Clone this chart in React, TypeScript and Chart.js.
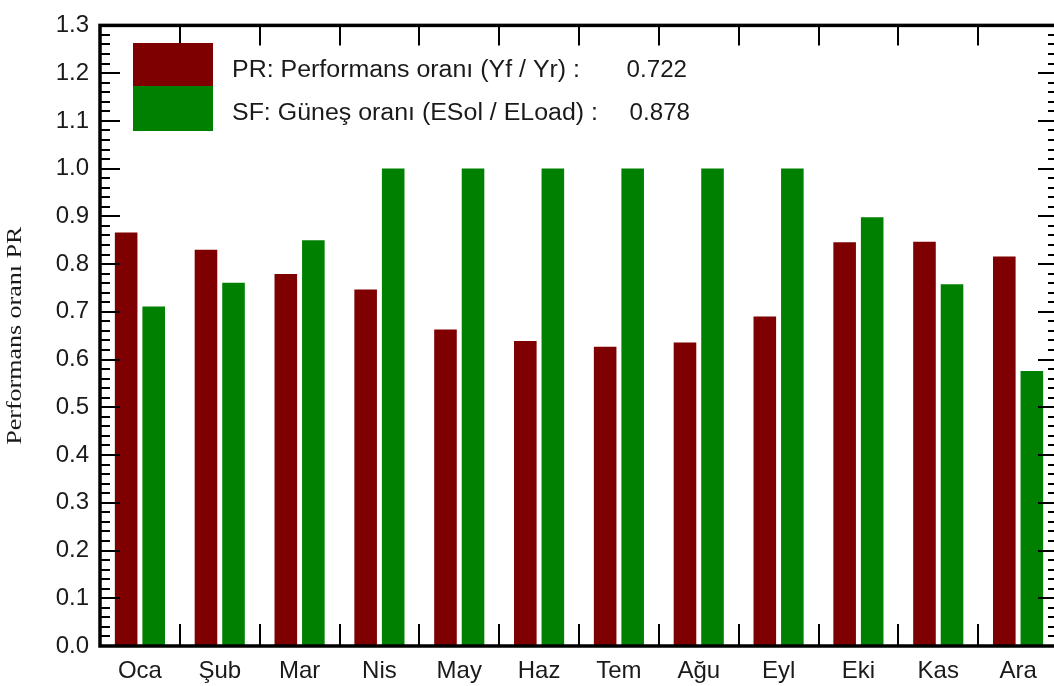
import React, { useEffect, useRef } from 'react';
import { Chart, registerables } from 'chart.js';

Chart.register(...registerables);

const months = ['Oca', 'Şub', 'Mar', 'Nis', 'May', 'Haz', 'Tem', 'Ağu', 'Eyl', 'Eki', 'Kas', 'Ara'];
const prValues = [0.866, 0.83, 0.779, 0.747, 0.663, 0.639, 0.627, 0.636, 0.69, 0.846, 0.847, 0.816];
const sfValues = [0.711, 0.761, 0.85, 1.0, 1.0, 1.0, 1.0, 1.0, 1.0, 0.898, 0.758, 0.576];
const seriesNames = ['PR: Performans oranı (Yf / Yr) :', 'SF: Güneş oranı (ESol / ELoad) :'];
const seriesTotals = ['0.722', '0.878'];
const seriesColors = ['#7f0000', '#008000'];
const yTitle = 'Performans oranı PR';
const yMin = 0;
const yMax = 1.3;
const yStep = 0.1;
const yMinorStep = 0.02;

// legend layout (pixels)
const LEG_BOX_X = 133;
const LEG_BOX_W = 80;
const LEG_BOX_TOPS = [43, 86];
const LEG_BOX_H = [43, 45];
const LEG_TEXT_X = 232;
const LEG_BASELINES = [77, 120];
const LEG_TEXT_WIDTHS = [348, 366];
const LEG_VALUE_RIGHT = [687, 690];

const decorPlugin = {
  id: 'decor',
  afterDatasetsDraw(chart: any) {
    const { ctx, chartArea } = chart;
    const { left, right, top, bottom } = chartArea;
    const xs = chart.scales.x;
    const ys = chart.scales.y;
    ctx.save();
    ctx.strokeStyle = '#000';
    ctx.lineWidth = 2;
    const nMinor = Math.round((yMax - yMin) / yMinorStep);
    const perMajor = Math.round(yStep / yMinorStep);
    for (let k = 1; k < nMinor; k++) {
      const v = yMin + k * yMinorStep;
      const py = Math.round(ys.getPixelForValue(v));
      const len = k % perMajor === 0 ? 20 : 10;
      ctx.beginPath();
      ctx.moveTo(left, py);
      ctx.lineTo(left + len, py);
      ctx.moveTo(right, py);
      ctx.lineTo(right - len, py);
      ctx.stroke();
    }
    for (let i = 0; i < months.length - 1; i++) {
      const px = Math.round((xs.getPixelForValue(i) + xs.getPixelForValue(i + 1)) / 2);
      ctx.beginPath();
      ctx.moveTo(px, bottom);
      ctx.lineTo(px, bottom - 22);
      ctx.moveTo(px, top);
      ctx.lineTo(px, top + 20);
      ctx.stroke();
    }
    ctx.lineWidth = 3.5;
    ctx.strokeRect(left, top, right - left, bottom - top);

    // legend
    const ds = chart.data.datasets;
    for (let i = 0; i < ds.length; i++) {
      ctx.fillStyle = ds[i].backgroundColor;
      ctx.fillRect(LEG_BOX_X, LEG_BOX_TOPS[i], LEG_BOX_W, LEG_BOX_H[i]);
    }
    ctx.fillStyle = '#1a1a1a';
    ctx.font = '23px "Liberation Sans", Arial, sans-serif';
    ctx.textBaseline = 'alphabetic';
    for (let i = 0; i < ds.length; i++) {
      const label = ds[i].label;
      const w = ctx.measureText(label).width;
      ctx.save();
      ctx.translate(LEG_TEXT_X, LEG_BASELINES[i]);
      ctx.scale(LEG_TEXT_WIDTHS[i] / w, 1);
      ctx.textAlign = 'left';
      ctx.fillText(label, 0, 0);
      ctx.restore();
      ctx.save();
      ctx.translate(LEG_VALUE_RIGHT[i], LEG_BASELINES[i]);
      ctx.scale(1.05, 1);
      ctx.textAlign = 'right';
      ctx.fillText(seriesTotals[i], 0, 0);
      ctx.restore();
    }

    // y axis title
    ctx.save();
    ctx.fillStyle = '#1a1a1a';
    ctx.font = '20px "Liberation Serif", "Times New Roman", serif';
    ctx.translate(21, (top + bottom) / 2);
    ctx.rotate(-Math.PI / 2);
    ctx.scale(1.3, 1);
    ctx.textAlign = 'center';
    ctx.fillText(yTitle, 0, 0);
    ctx.restore();

    ctx.restore();
  },
};

export default function App() {
  const canvasRef = useRef<HTMLCanvasElement | null>(null);

  useEffect(() => {
    const canvas = canvasRef.current;
    if (!canvas) return;
    const chart = new Chart(canvas, {
      type: 'bar',
      data: {
        labels: months,
        datasets: [
          {
            label: seriesNames[0],
            data: prValues,
            backgroundColor: seriesColors[0],
            borderWidth: 0,
            categoryPercentage: 0.69,
            barPercentage: 0.82,
          },
          {
            label: seriesNames[1],
            data: sfValues,
            backgroundColor: seriesColors[1],
            borderWidth: 0,
            categoryPercentage: 0.69,
            barPercentage: 0.82,
          },
        ],
      },
      options: {
        animation: false,
        responsive: false,
        devicePixelRatio: 1,
        layout: { padding: { left: 0, right: 12, top: 18, bottom: 0 } },
        plugins: {
          legend: { display: false },
          tooltip: { enabled: false },
        },
        scales: {
          x: {
            grid: { display: false, drawTicks: false },
            border: { display: false },
            ticks: {
              color: '#1a1a1a',
              font: { family: '"Liberation Sans", Arial, sans-serif', size: 24 },
              padding: 11,
              maxRotation: 0,
              autoSkip: false,
            },
            afterFit: (s: any) => {
              s.height = 40;
            },
          },
          y: {
            min: yMin,
            max: yMax,
            grid: { display: false, drawTicks: false },
            border: { display: false },
            ticks: {
              stepSize: yStep,
              color: '#1a1a1a',
              font: { family: '"Liberation Sans", Arial, sans-serif', size: 24 },
              padding: 11,
              callback: (v: any) => Number(v).toFixed(1),
            },
            afterFit: (s: any) => {
              s.width = 100;
            },
          },
        },
      },
      plugins: [decorPlugin],
    });
    return () => chart.destroy();
  }, []);

  return (
    <div
      style={{
        position: 'absolute',
        left: 0,
        top: 0,
        width: 1054,
        height: 686,
        overflow: 'hidden',
        background: '#fff',
      }}
    >
      <canvas ref={canvasRef} width={1070} height={686} style={{ display: 'block', width: 1070, height: 686 }} />
    </div>
  );
}
